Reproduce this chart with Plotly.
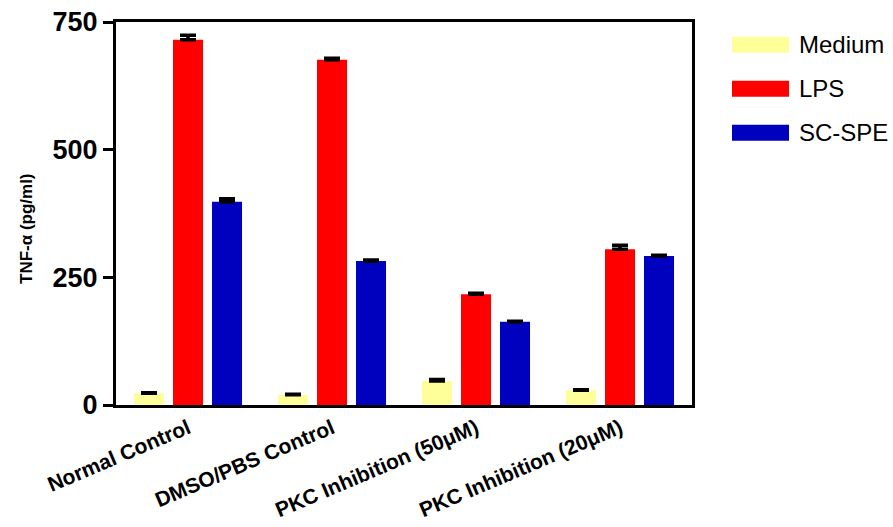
import plotly.graph_objects as go

categories = ["Normal Control", "DMSO/PBS Control", "PKC Inhibition (50\u03bcM)", "PKC Inhibition (20\u03bcM)"]
series_names = ["Medium", "LPS", "SC-SPE"]
medium_vals = [23, 20, 47, 29]
medium_err = [1, 1, 3, 1]
lps_vals = [715, 676, 217, 305]
lps_err = [9, 3, 2, 8]
scspe_vals = [398, 282, 163, 292]
scspe_err = [6, 2, 1, 1]
colors = ["#FFFF99", "#FF0000", "#0000BF"]
y_ticks = [0, 250, 500, 750]

values = [medium_vals, lps_vals, scspe_vals]
errors = [medium_err, lps_err, scspe_err]

fig = go.Figure()
for name, vals, errs, col in zip(series_names, values, errors, colors):
    fig.add_trace(go.Bar(
        x=categories, y=vals, name=name,
        marker=dict(color=col, line=dict(width=0)),
        error_y=dict(type="data", array=errs, arrayminus=[0] * len(errs), symmetric=False,
                     color="black", thickness=3.5, width=8),
        showlegend=False,
    ))

W, H = 893, 527
ml, mr, mt, mb = 116, 201, 22, 122

fig.update_layout(
    width=W, height=H,
    margin=dict(l=ml, r=mr, t=mt, b=mb, autoexpand=False),
    paper_bgcolor="white", plot_bgcolor="white",
    barmode="group", bargap=0.1875, bargroupgap=0.23,
    font=dict(family="Liberation Sans, Arial", color="black"),
)
fig.update_yaxes(
    range=[0, 750], tickvals=y_ticks, ticktext=[str(v) for v in y_ticks],
    showgrid=False, zeroline=False, automargin=False,
    showline=True, linecolor="black", linewidth=3, mirror=True,
    ticks="outside", ticklen=10, tickwidth=3, tickcolor="black",
    tickfont=dict(family="Liberation Sans, Arial", size=27, color="black", weight="bold"),
)
fig.update_xaxes(
    showgrid=False, zeroline=False, automargin=False,
    showline=True, linecolor="black", linewidth=3, mirror=True,
    ticks="", tickangle=-23,
    tickfont=dict(family="Liberation Sans, Arial", size=21, color="black", weight="bold"),
)

pw = W - ml - mr
ph = H - mt - mb
def px_to_paper(xp, yp):
    return (xp - ml) / pw, 1 - (yp - mt) / ph

# y-axis title
tx, ty = px_to_paper(26, 229)
fig.add_annotation(
    x=tx, y=ty, xref="paper", yref="paper",
    text="<b>TNF-\u03b1 (pg/ml)</b>", textangle=-90, showarrow=False,
    font=dict(family="Liberation Sans, Arial", size=17, color="black"),
    xanchor="center", yanchor="middle",
)

# legend drawn manually to match wide swatches
for i, (name, col) in enumerate(zip(series_names, colors)):
    yc = 44.7 + 44 * i
    x0, y0 = px_to_paper(732, yc - 8)
    x1, y1 = px_to_paper(789, yc + 8)
    fig.add_shape(type="rect", xref="paper", yref="paper", x0=x0, x1=x1, y0=y1, y1=y0,
                  fillcolor=col, line=dict(width=0))
    lx, ly = px_to_paper(797, yc)
    fig.add_annotation(x=lx, y=ly, xref="paper", yref="paper", text=name, showarrow=False,
                       xanchor="left", yanchor="middle",
                       font=dict(family="Liberation Sans, Arial", size=24, color="black"))

fig.write_html("out.html")
